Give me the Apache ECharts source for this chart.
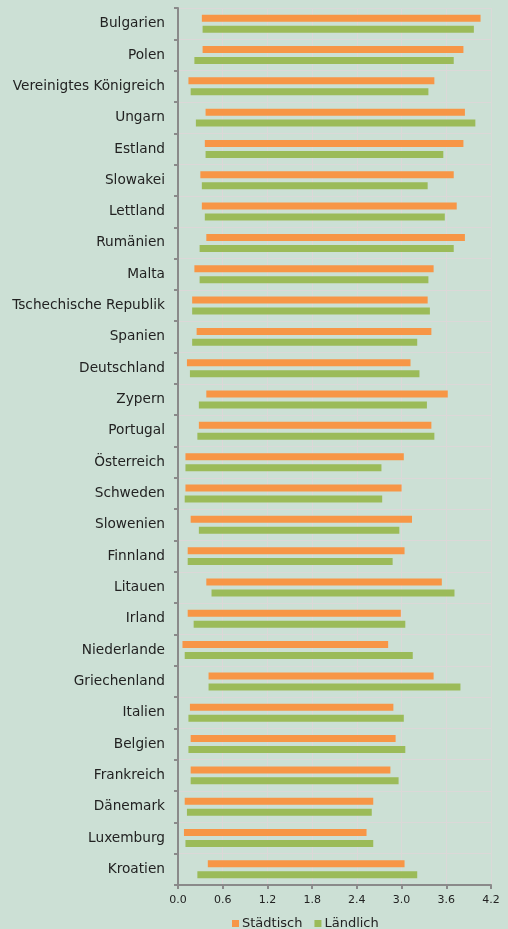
<!DOCTYPE html>
<html>
<head>
<meta charset="utf-8">
<script src="https://cdn.jsdelivr.net/npm/echarts@6/dist/echarts.min.js"></script>
<style>
  html, body { margin: 0; padding: 0; background: #cce0d5; }
  #chart { width: 508px; height: 929px; }
</style>
</head>
<body>
<div id="chart"></div>
<script>
// Länder (von oben nach unten)
const countries = [
  'Bulgarien', 'Polen', 'Vereinigtes Königreich', 'Ungarn', 'Estland',
  'Slowakei', 'Lettland', 'Rumänien', 'Malta', 'Tschechische Republik',
  'Spanien', 'Deutschland', 'Zypern', 'Portugal', 'Österreich',
  'Schweden', 'Slowenien', 'Finnland', 'Litauen', 'Irland',
  'Niederlande', 'Griechenland', 'Italien', 'Belgien', 'Frankreich',
  'Dänemark', 'Luxemburg', 'Kroatien'
];

// Städtisch: Beginn und Ende der Spanne
const urbanLow = [
  0.32, 0.33, 0.14, 0.37, 0.36,
  0.30, 0.32, 0.38, 0.22, 0.19,
  0.25, 0.12, 0.38, 0.28, 0.10,
  0.10, 0.17, 0.13, 0.38, 0.13,
  0.06, 0.41, 0.16, 0.17, 0.17,
  0.09, 0.08, 0.40
];
const urbanHigh = [
  4.06, 3.83, 3.44, 3.85, 3.83,
  3.70, 3.74, 3.85, 3.43, 3.35,
  3.40, 3.12, 3.62, 3.40, 3.03,
  3.00, 3.14, 3.04, 3.54, 2.99,
  2.82, 3.43, 2.89, 2.92, 2.85,
  2.62, 2.53, 3.04
];

// Ländlich: Beginn und Ende der Spanne
const ruralLow = [
  0.33, 0.22, 0.17, 0.24, 0.37,
  0.32, 0.36, 0.29, 0.29, 0.19,
  0.19, 0.16, 0.28, 0.26, 0.10,
  0.09, 0.28, 0.13, 0.45, 0.21,
  0.09, 0.41, 0.14, 0.14, 0.17,
  0.12, 0.10, 0.26
];
const ruralHigh = [
  3.97, 3.70, 3.36, 3.99, 3.56,
  3.35, 3.58, 3.70, 3.36, 3.38,
  3.21, 3.24, 3.34, 3.44, 2.73,
  2.74, 2.97, 2.88, 3.71, 3.05,
  3.15, 3.79, 3.03, 3.05, 2.96,
  2.60, 2.62, 3.21
];

// Achsenbeschriftung
const xTicks = [0, 0.6, 1.2, 1.8, 2.4, 3.0, 3.6, 4.2];

const span = (lo, hi) => hi.map((v, i) => +(v - lo[i]).toFixed(3));

const FONT = '"DejaVu Sans", Verdana, sans-serif';
const ORANGE = '#f79646';
const GREEN = '#9bbb59';
const AXIS = '#8a8a8a';
const GRID = '#dcd8d8';
const TEXT = '#222222';

const chart = echarts.init(document.getElementById('chart'), null, { renderer: 'canvas' });

chart.setOption({
  backgroundColor: '#cce0d5',
  animation: false,
  grid: { left: 178, right: 17, top: 8, bottom: 44, containLabel: false },
  legend: {
    data: ['Städtisch', 'Ländlich'],
    left: 232,
    top: 917,
    padding: 0,
    itemWidth: 7,
    itemHeight: 7,
    itemGap: 12,
    icon: 'rect',
    textStyle: { fontFamily: FONT, fontSize: 13, color: TEXT, padding: [0, 0, 0, -2] }
  },
  xAxis: {
    type: 'value',
    min: xTicks[0],
    max: xTicks[xTicks.length - 1],
    interval: 0.6,
    axisLine: { show: true, lineStyle: { color: AXIS, width: 2 } },
    axisTick: { show: true, length: 4, lineStyle: { color: AXIS, width: 2 } },
    axisLabel: {
      fontFamily: FONT, fontSize: 11, color: TEXT, margin: 10,
      formatter: v => v.toFixed(1)
    },
    splitLine: { show: true, lineStyle: { color: GRID, width: 1 } }
  },
  yAxis: {
    type: 'category',
    data: countries,
    inverse: true,
    axisLine: { show: true, lineStyle: { color: AXIS, width: 2 } },
    axisTick: { show: true, length: 4, lineStyle: { color: AXIS, width: 2 } },
    axisLabel: { fontFamily: FONT, fontSize: 13.7, color: TEXT, margin: 13 },
    splitLine: { show: true, lineStyle: { color: GRID, width: 1 } }
  },
  series: [
    {
      name: 'urbanBase', type: 'bar', stack: 'urban', silent: true,
      barWidth: 7, barGap: '57%',
      itemStyle: { color: 'rgba(0,0,0,0)' },
      data: urbanLow
    },
    {
      name: 'Städtisch', type: 'bar', stack: 'urban',
      barWidth: 7, barGap: '57%',
      itemStyle: { color: ORANGE },
      data: span(urbanLow, urbanHigh)
    },
    {
      name: 'ruralBase', type: 'bar', stack: 'rural', silent: true,
      barWidth: 7, barGap: '57%',
      itemStyle: { color: 'rgba(0,0,0,0)' },
      data: ruralLow
    },
    {
      name: 'Ländlich', type: 'bar', stack: 'rural',
      barWidth: 7, barGap: '57%',
      itemStyle: { color: GREEN },
      data: span(ruralLow, ruralHigh)
    }
  ]
});
</script>
</body>
</html>
